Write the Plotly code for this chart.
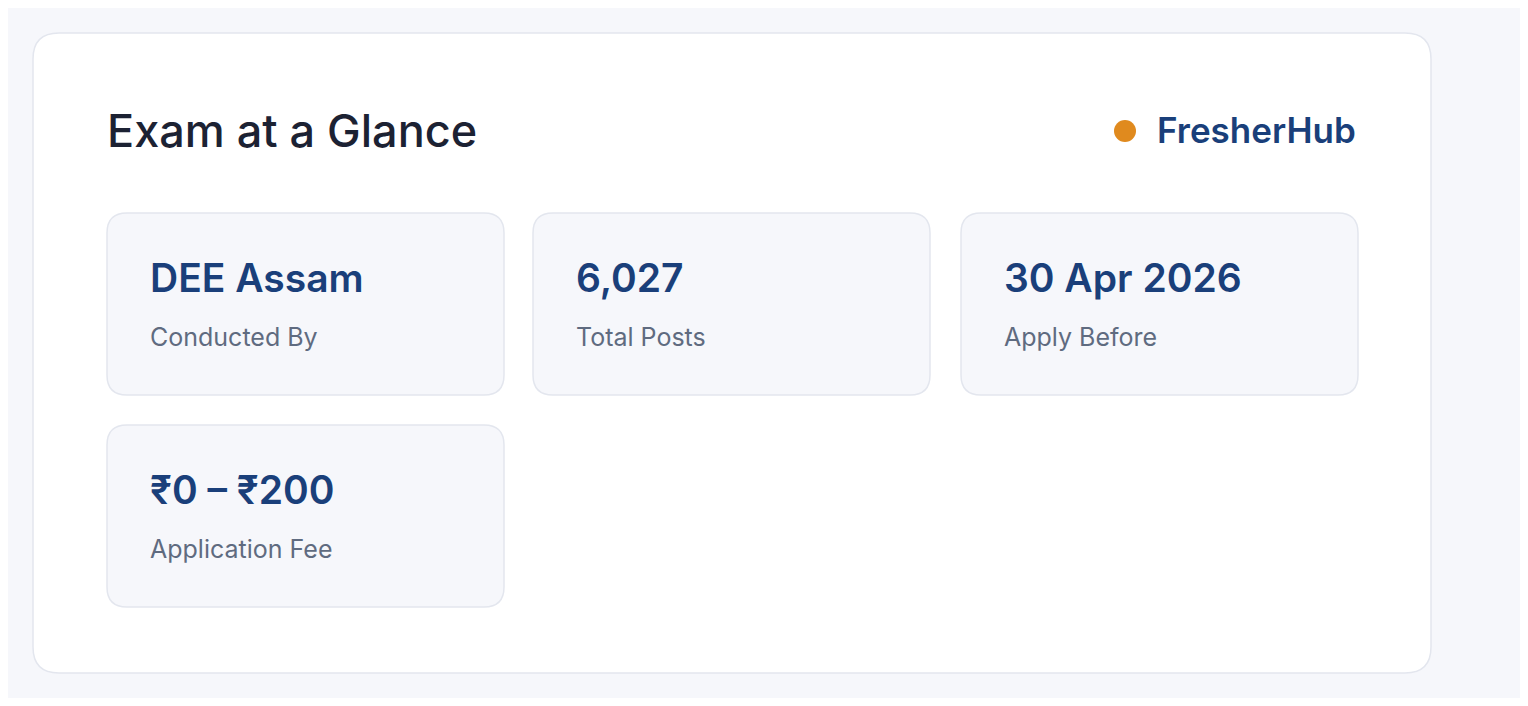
import plotly.graph_objs as go

# Data
title = "Exam at a Glance"
brand = "FresherHub"
tile_values = ["DEE Assam", "6,027", "30 Apr 2026", "₹0 – ₹200"]
tile_labels = ["Conducted By", "Total Posts", "Apply Before", "Application Fee"]

W, H = 1528, 706
PAD = 8  # page body margin
NAVY = "#1a3f7a"


def rounded_rect(x0, y0, x1, y1, r):
    return (f"M {x0+r},{y0} L {x1-r},{y0} Q {x1},{y0} {x1},{y0+r} "
            f"L {x1},{y1-r} Q {x1},{y1} {x1-r},{y1} L {x0+r},{y1} "
            f"Q {x0},{y1} {x0},{y1-r} L {x0},{y0+r} Q {x0},{y0} {x0+r},{y0} Z")


fig = go.Figure()
shapes = [dict(type="path", path=rounded_rect(33, 33, 1431, 673, 26),
               fillcolor="white", line=dict(color="#e3e6ee", width=1.5), layer="below")]
annotations = [
    dict(x=105, y=130, text=title, xanchor="left", yanchor="middle", showarrow=False,
         font=dict(family="Inter", size=45, color="#1c2233", weight=500)),
    dict(x=1358, y=130, text=brand, xanchor="right", yanchor="middle", showarrow=False,
         font=dict(family="Inter", size=35, color=NAVY, weight=600)),
]
shapes.append(dict(type="circle", x0=1114, x1=1136, y0=120, y1=142,
                   fillcolor="#e08a1e", line=dict(width=0)))

col_x = [107, 533, 961]
tile_w, tile_h = 397, 182
for i, (val, lab) in enumerate(zip(tile_values, tile_labels)):
    x0 = col_x[i % 3]
    y0 = 213 + (i // 3) * 212
    shapes.append(dict(type="path", path=rounded_rect(x0, y0, x0 + tile_w, y0 + tile_h, 20),
                       fillcolor="#f6f7fb", line=dict(color="#e3e6ee", width=1.5)))
    annotations.append(dict(x=x0 + 41, y=y0 + 64, text=val, xanchor="left", yanchor="middle",
                            showarrow=False, font=dict(family="Inter", size=39, color=NAVY, weight=600)))
    annotations.append(dict(x=x0 + 41, y=y0 + 124, text=lab, xanchor="left", yanchor="middle",
                            showarrow=False, font=dict(family="Inter", size=25, color="#5f6b80")))

fig.update_layout(width=W - 2 * PAD, height=H - 2 * PAD, margin=dict(l=0, r=0, t=0, b=0),
                  paper_bgcolor="#f6f7fb", plot_bgcolor="#f6f7fb",
                  shapes=shapes, annotations=annotations, showlegend=False)
fig.update_xaxes(range=[PAD, W - PAD], visible=False, fixedrange=True)
fig.update_yaxes(range=[H - PAD, PAD], visible=False, fixedrange=True)
fig.write_html("out.html", config={"displayModeBar": False})
